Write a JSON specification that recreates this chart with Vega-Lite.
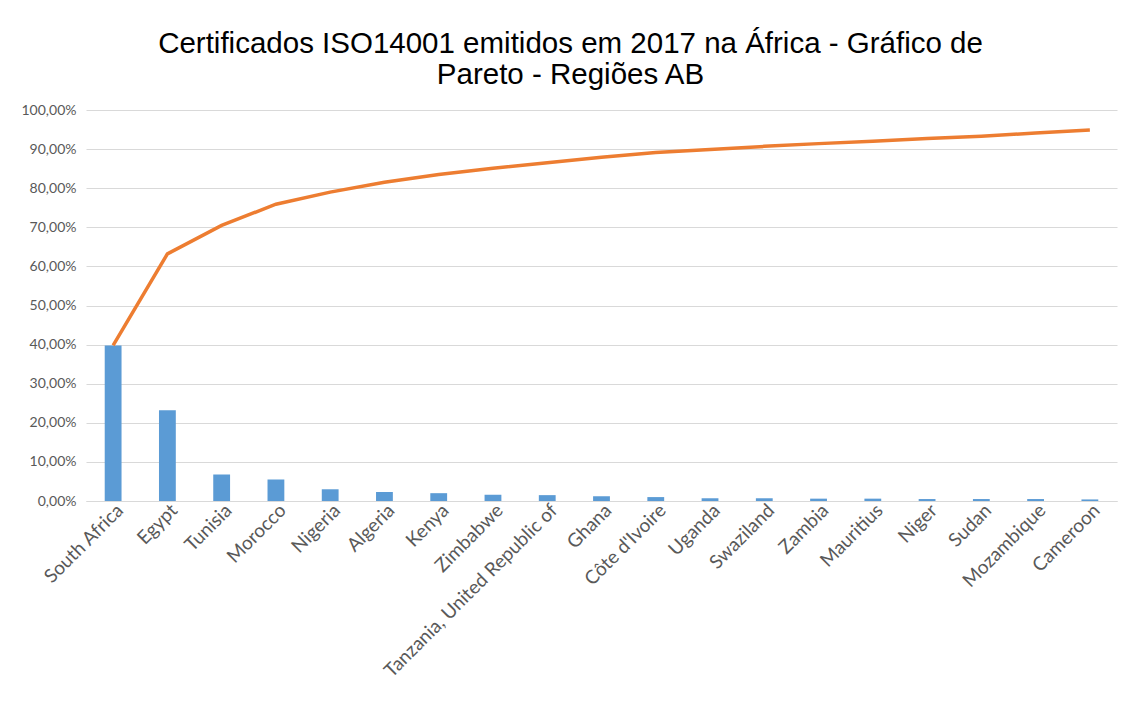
{
  "$schema": "https://vega.github.io/schema/vega-lite/v6.json",
  "autosize": "none",
  "width": 1031,
  "height": 391,
  "padding": {"left": 86, "top": 110, "right": 4, "bottom": 204},
  "background": "white",
  "config": {
    "locale": {"number": {"decimal": ",", "thousands": ".", "grouping": [3], "currency": ["", " €"]}},
    "view": {"stroke": null},
    "font": "Lato",
    "axisY": {
      "title": null,
      "values": [0, 0.1, 0.2, 0.3, 0.4, 0.5, 0.6, 0.7, 0.8, 0.9, 1.0],
      "format": ".2%",
      "labelFontSize": 14,
      "labelColor": "#595959",
      "labelPadding": 10,
      "labelOverlap": false,
      "ticks": false,
      "domain": false,
      "grid": true,
      "gridColor": "#D9D9D9",
      "gridWidth": 1
    }
  },
  "title": {
    "text": ["Certificados ISO14001 emitidos em 2017 na África - Gráfico de", "Pareto - Regiões AB"],
    "font": "Liberation Sans",
    "fontSize": 29.5,
    "fontWeight": "normal",
    "color": "#000000",
    "anchor": "middle",
    "frame": "group",
    "dx": -31,
    "offset": 13,
    "lineHeight": 31
  },
  "data": {
    "values": [
      {"country": "South Africa", "pct": 0.398, "cum": 0.398},
      {"country": "Egypt", "pct": 0.232, "cum": 0.632},
      {"country": "Tunisia", "pct": 0.068, "cum": 0.705},
      {"country": "Morocco", "pct": 0.055, "cum": 0.759},
      {"country": "Nigeria", "pct": 0.030, "cum": 0.790},
      {"country": "Algeria", "pct": 0.023, "cum": 0.815},
      {"country": "Kenya", "pct": 0.020, "cum": 0.835},
      {"country": "Zimbabwe", "pct": 0.016, "cum": 0.851},
      {"country": "Tanzania, United Republic of", "pct": 0.015, "cum": 0.865},
      {"country": "Ghana", "pct": 0.012, "cum": 0.879},
      {"country": "Côte d'Ivoire", "pct": 0.010, "cum": 0.891},
      {"country": "Uganda", "pct": 0.007, "cum": 0.899},
      {"country": "Swaziland", "pct": 0.007, "cum": 0.907},
      {"country": "Zambia", "pct": 0.006, "cum": 0.914},
      {"country": "Mauritius", "pct": 0.006, "cum": 0.920},
      {"country": "Niger", "pct": 0.005, "cum": 0.927},
      {"country": "Sudan", "pct": 0.005, "cum": 0.933},
      {"country": "Mozambique", "pct": 0.005, "cum": 0.941},
      {"country": "Cameroon", "pct": 0.004, "cum": 0.949}
    ]
  },
  "encoding": {
    "x": {
      "field": "country",
      "type": "nominal",
      "sort": null,
      "scale": {"paddingInner": 0.69, "paddingOuter": 0.345},
      "axis": {
        "title": null,
        "labelAngle": -45,
        "labelAlign": "right",
        "labelBaseline": "middle",
        "labelFontSize": 19,
        "labelColor": "#595959",
        "labelPadding": 6,
        "labelOffset": 7,
        "labelLimit": 400,
        "labelOverlap": false,
        "ticks": false,
        "domainColor": "#D9D9D9",
        "domainWidth": 1,
        "grid": false
      }
    }
  },
  "layer": [
    {
      "mark": {"type": "bar", "color": "#5B9BD5"},
      "encoding": {
        "y": {
          "field": "pct",
          "type": "quantitative",
          "scale": {"domain": [0, 1], "nice": false}
        }
      }
    },
    {
      "mark": {"type": "line", "color": "#ED7D31", "strokeWidth": 3.5},
      "encoding": {
        "y": {"field": "cum", "type": "quantitative"}
      }
    }
  ]
}
